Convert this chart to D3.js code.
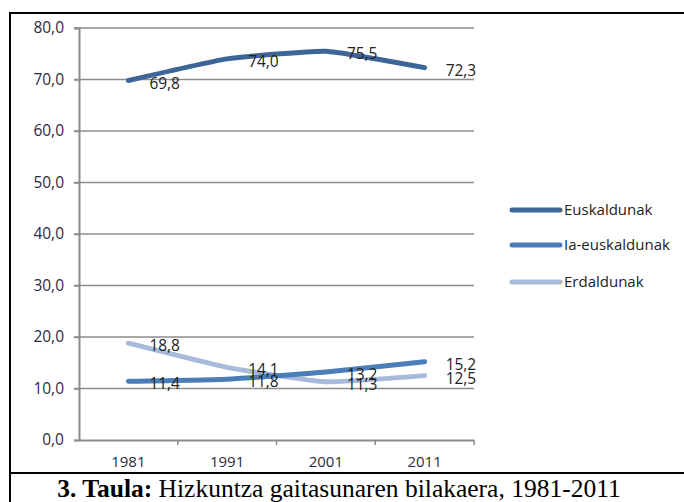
<!DOCTYPE html>
<html>
<head>
<meta charset="utf-8">
<script src="https://cdn.jsdelivr.net/npm/d3@7"></script>
<style>
  body { margin: 0; background: #fff; }
  svg { display: block; }
</style>
</head>
<body>
<script>
// years on the x axis
const years = ["1981", "1991", "2001", "2011"];
// series values (percent)
const euskaldunak = [69.8, 74.0, 75.5, 72.3];
const iaEuskaldunak = [11.4, 11.8, 13.2, 15.2];
const erdaldunak = [18.8, 14.1, 11.3, 12.5];
const seriesNames = ["Euskaldunak", "Ia-euskaldunak", "Erdaldunak"];
const yTicks = [0, 10, 20, 30, 40, 50, 60, 70, 80];

const colors = ["#3d6598", "#4a7ebb", "#a7badb"];
const series = [euskaldunak, iaEuskaldunak, erdaldunak];

const W = 684, H = 502;
const FONT = "'Open Sans', sans-serif";
const svg = d3.select("body").append("svg")
  .attr("width", W)
  .attr("height", H);

// frame around the figure + caption separator
svg.append("line").attr("x1", 9).attr("x2", W).attr("y1", 13).attr("y2", 13)
  .attr("stroke", "#000").attr("stroke-width", 2);
svg.append("line").attr("x1", 10).attr("x2", 10).attr("y1", 12).attr("y2", H)
  .attr("stroke", "#000").attr("stroke-width", 2);
svg.append("line").attr("x1", 9).attr("x2", W).attr("y1", 473).attr("y2", 473)
  .attr("stroke", "#000").attr("stroke-width", 2);

// scales
const x = d3.scaleBand().domain(years).range([79, 474]);
const y = d3.scaleLinear().domain([0, 80]).range([440, 28]);
const fmt = v => d3.format(".1f")(v).replace(".", ",");

// gridlines
svg.append("g")
  .selectAll("line")
  .data(yTicks.filter(d => d > 0))
  .enter().append("line")
  .attr("x1", 74).attr("x2", 474)
  .attr("y1", d => y(d)).attr("y2", d => y(d))
  .attr("stroke", "#8c8c8c").attr("stroke-width", 1.5);

// y axis
const yAxis = svg.append("g")
  .attr("transform", "translate(79,0)")
  .call(d3.axisLeft(y).tickValues(yTicks).tickSize(5).tickFormat(fmt));
yAxis.select(".domain").attr("stroke", "#8c8c8c").attr("stroke-width", 2);
yAxis.selectAll(".tick line").attr("stroke", "#8c8c8c").attr("stroke-width", 1.5);
yAxis.selectAll(".tick text")
  .attr("x", -15)
  .attr("dy", "0.3em")
  .attr("fill", "#2b2b44")
  .style("font-family", FONT)
  .style("font-size", "15.5px");

// x axis
const xAxis = svg.append("g")
  .attr("transform", "translate(0,440)")
  .call(d3.axisBottom(x).tickSize(0).tickPadding(0));
xAxis.select(".domain").attr("stroke", "#8c8c8c").attr("stroke-width", 2);
xAxis.selectAll(".tick text")
  .attr("y", 16)
  .attr("fill", "#2b2b44")
  .style("font-family", FONT)
  .style("font-size", "15px");
// tick marks at band edges
svg.append("g")
  .selectAll("line")
  .data(years)
  .enter().append("line")
  .attr("x1", d => x(d) + x.bandwidth())
  .attr("x2", d => x(d) + x.bandwidth())
  .attr("y1", 440).attr("y2", 445)
  .attr("stroke", "#8c8c8c").attr("stroke-width", 1.5);

// lines
const line = d3.line()
  .x((d, i) => x(years[i]) + x.bandwidth() / 2)
  .y(d => y(d))
  .curve(d3.curveCardinal.tension(0.6));

// draw light series first so dark ones sit on top, like the reference
[2, 1, 0].forEach(k => {
  svg.append("path")
    .datum(series[k])
    .attr("d", line)
    .attr("fill", "none")
    .attr("stroke", colors[k])
    .attr("stroke-width", 5)
    .attr("stroke-linecap", "round")
    .attr("stroke-linejoin", "round");
});

// data labels, to the right of each point
series.forEach(vals => {
  svg.append("g")
    .selectAll("text")
    .data(vals)
    .enter().append("text")
    .attr("x", (d, i) => x(years[i]) + x.bandwidth() / 2 + 21)
    .attr("y", d => y(d) + 8)
    .attr("fill", "#222")
    .style("font-family", FONT)
    .style("font-size", "15.5px")
    .text(fmt);
});

// legend
const legendY = [210, 245, 282];
const legend = svg.append("g");
seriesNames.forEach((name, k) => {
  legend.append("line")
    .attr("x1", 512).attr("x2", 560)
    .attr("y1", legendY[k]).attr("y2", legendY[k])
    .attr("stroke", colors[k]).attr("stroke-width", 5)
    .attr("stroke-linecap", "round");
  legend.append("text")
    .attr("x", 564).attr("y", legendY[k] + 5)
    .attr("fill", "#222")
    .style("font-family", FONT)
    .style("font-size", "15px")
    .text(name);
});

// caption
const cap = svg.append("text")
  .attr("x", 339).attr("y", 497)
  .attr("text-anchor", "middle")
  .style("font-family", "'Liberation Serif', serif")
  .style("font-size", "25.5px")
  .attr("fill", "#000");
cap.append("tspan").style("font-weight", "bold").text("3. Taula:");
cap.append("tspan").text(" Hizkuntza gaitasunaren bilakaera, 1981-2011");
</script>
</body>
</html>
